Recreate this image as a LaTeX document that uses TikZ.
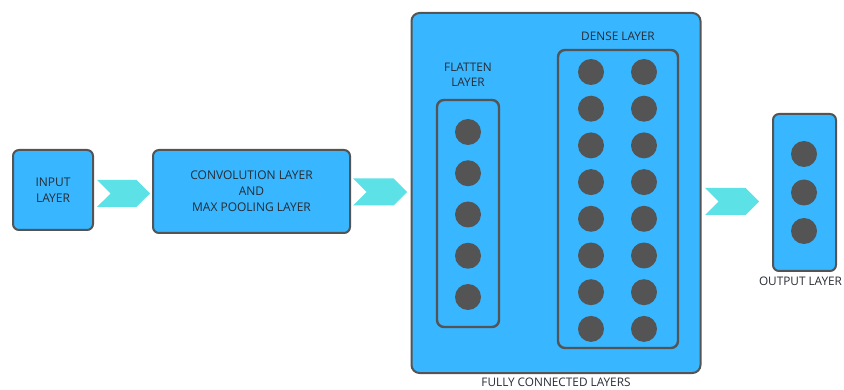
\documentclass[tikz,border=0pt]{standalone}
\usepackage{fontspec}
\setmainfont{Open Sans}
\usepackage{xcolor}
\usepackage{tikz}
\usetikzlibrary{positioning, shapes.symbols}
\definecolor{LayerBlue}{RGB}{56,182,255}
\definecolor{EdgeGray}{RGB}{84,84,84}
\definecolor{FlowCyan}{RGB}{92,225,230}
\definecolor{TextGray}{RGB}{40,44,52}
\tikzset{
    layerbox/.style={
        draw=EdgeGray, line width=2pt, fill=LayerBlue, rounded corners=6pt,
        inner sep=0pt, align=center, text=TextGray, font=\fontsize{12}{16}\selectfont
    },
    groupbox/.style={
        draw=EdgeGray, line width=2.4pt, rounded corners=7pt, inner sep=0pt
    },
    unit/.style={
        circle, fill=EdgeGray, minimum size=26pt, inner sep=0pt
    },
    flow/.style={
        signal, signal to=east, signal from=west, fill=FlowCyan,
        minimum width=53pt, minimum height=27pt, inner sep=0pt
    },
    caption/.style={
        font=\fontsize{11.8}{15}\selectfont, text=TextGray, align=center, inner sep=1pt
    }
}

\begin{document}
\begin{tikzpicture}[x=1pt, y=-1pt]
    \useasboundingbox (0,0) rectangle (844,390);
    % left part
    \node[layerbox, minimum width=80pt, minimum height=80pt] (input) at (53,190) {INPUT\\LAYER};
    \node[flow] (c1) at (123.5,193.5) {};
    \node[layerbox, minimum width=197pt, minimum height=83pt] (conv) at (251.5,191.5) {CONVOLUTION LAYER\\AND\\MAX POOLING LAYER};
    \node[flow, minimum width=54pt] (c2) at (380,192) {};
    % fully connected block
    \node[layerbox, rounded corners=8pt, minimum width=289pt, minimum height=360pt] (fc) at (556,193) {};
    \node[groupbox, minimum width=62pt, minimum height=227pt] (flat) at (468,213.5) {};
    \node[groupbox, minimum width=120pt, minimum height=298pt] (dense) at (618,199) {};
    \foreach \i in {1,...,5}
        \node[unit] (f\i) at (468,{132+41.25*(\i-1)}) {};
    \foreach \i in {1,...,8} {
        \node[unit] (da\i) at (591,{72+36.7*(\i-1)}) {};
        \node[unit] (db\i) at (644,{72+36.7*(\i-1)}) {};
    }
    \node[caption, above=11pt of flat] {FLATTEN\\LAYER};
    \node[caption, above=7pt of dense] {DENSE LAYER};
    \node[caption, below=3pt of fc] {FULLY CONNECTED LAYERS};
    % output
    \node[flow, minimum width=54pt] (c3) at (732,201.5) {};
    \node[layerbox, minimum width=63pt, minimum height=157pt] (out) at (804.5,192.5) {};
    \foreach \i in {1,2,3}
        \node[unit] (o\i) at (804,{154+38.5*(\i-1)}) {};
    \node[caption, below=4pt of out, xshift=-4pt] {OUTPUT LAYER};
\end{tikzpicture}
\end{document}
